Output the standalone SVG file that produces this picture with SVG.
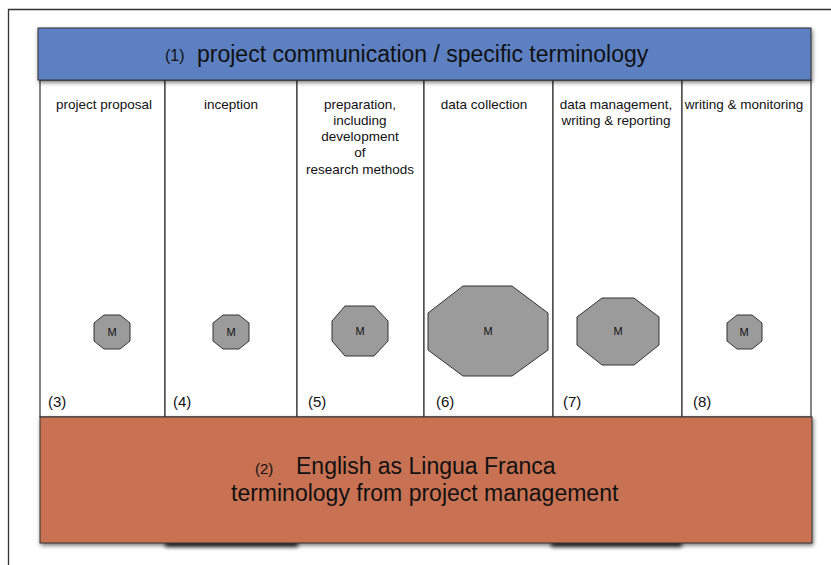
<svg xmlns="http://www.w3.org/2000/svg" width="831" height="565" viewBox="0 0 831 565">
<defs>
<filter id="sh" x="-5%" y="-20%" width="110%" height="140%">
<feDropShadow dx="1" dy="2" stdDeviation="2" flood-color="#000" flood-opacity="0.55"/>
</filter>
<filter id="blur" x="-10%" y="-100%" width="120%" height="300%">
<feGaussianBlur stdDeviation="2"/>
</filter>
<style>
text{font-family:"Liberation Sans",Arial,sans-serif;fill:#111}
.col{fill:#fff;stroke:#333;stroke-width:1.2}
.oct{fill:#9b9b9b;stroke:#333;stroke-width:1}
.m{font-size:11px;text-anchor:middle}
.lbl{font-size:13.5px;text-anchor:middle}
.num{font-size:15px}
</style>
</defs>
<rect width="831" height="565" fill="#fff"/>
<path d="M8.5,565 V9.5 H831" fill="none" stroke="#333" stroke-width="1.3"/>

<g id="columns">
<g id="col3"><rect class="col" x="40" y="80" width="125" height="337"/>
<text class="lbl" x="104" y="109">project proposal</text>
<text class="num" x="48" y="407">(3)</text></g>
<g id="col4"><rect class="col" x="165" y="80" width="132" height="337"/>
<text class="lbl" x="231" y="109">inception</text>
<text class="num" x="173" y="407">(4)</text></g>
<g id="col5"><rect class="col" x="297" y="80" width="127" height="337"/>
<text class="lbl" x="360" y="109">preparation,</text>
<text class="lbl" x="360" y="125">including</text>
<text class="lbl" x="360" y="141">development</text>
<text class="lbl" x="360" y="157">of</text>
<text class="lbl" x="360" y="174">research methods</text>
<text class="num" x="308" y="407">(5)</text></g>
<g id="col6"><rect class="col" x="424" y="80" width="129" height="337"/>
<text class="lbl" x="484" y="109">data collection</text>
<text class="num" x="436" y="407">(6)</text></g>
<g id="col7"><rect class="col" x="553" y="80" width="129" height="337"/>
<text class="lbl" x="616" y="109">data management,</text>
<text class="lbl" x="616" y="125">writing &amp; reporting</text>
<text class="num" x="563" y="407">(7)</text></g>
<g id="col8"><rect class="col" x="682" y="80" width="129" height="337"/>
<text class="lbl" x="744" y="109">writing &amp; monitoring</text>
<text class="num" x="693" y="407">(8)</text></g>
</g>

<g id="milestones">
<g id="m3"><polygon class="oct" points="104,315 120,315 130,323 130,341 120,349 104,349 94,341 94,323"/><text class="m" x="112" y="336">M</text></g>
<g id="m4"><polygon class="oct" points="223,315 239,315 249,323 249,341 239,349 223,349 213,341 213,323"/><text class="m" x="231" y="336">M</text></g>
<g id="m5"><polygon class="oct" points="345,306 374,306 388,321 388,341 374,356 345,356 332,341 332,321"/><text class="m" x="360" y="335">M</text></g>
<g id="m6"><polygon class="oct" points="463,286 512,286 548,313 548,350 512,376 463,376 428,350 428,313"/><text class="m" x="488" y="335">M</text></g>
<g id="m7"><polygon class="oct" points="602,298 634,298 659,317 659,345 634,365 602,365 577,345 577,317"/><text class="m" x="618" y="335">M</text></g>
<g id="m8"><polygon class="oct" points="737,315 752,315 762,323 762,341 752,349 737,349 727,341 727,323"/><text class="m" x="744" y="336">M</text></g>
</g>

<g id="shadows">
<rect x="165" y="540" width="133" height="7" fill="#000" opacity="0.8" filter="url(#blur)"/>
<rect x="551" y="540" width="131" height="7" fill="#000" opacity="0.8" filter="url(#blur)"/>
</g>

<g id="bar1">
<rect x="38" y="28" width="773" height="52" fill="#5b80c2" stroke="#333" stroke-width="1" filter="url(#sh)"/>
<text x="165" y="61" style="font-size:16px">(1)</text>
<text x="197" y="62" style="font-size:23px">project communication / specific terminology</text>
</g>

<g id="bar2">
<rect x="40" y="417" width="772" height="126" fill="#c97252" stroke="#333" stroke-width="1" filter="url(#sh)"/>
<text x="255" y="474" style="font-size:15px">(2)</text>
<text x="296" y="474" style="font-size:23px">English as Lingua Franca</text>
<text x="231" y="501" style="font-size:23px">terminology from project management</text>
</g>
</svg>
